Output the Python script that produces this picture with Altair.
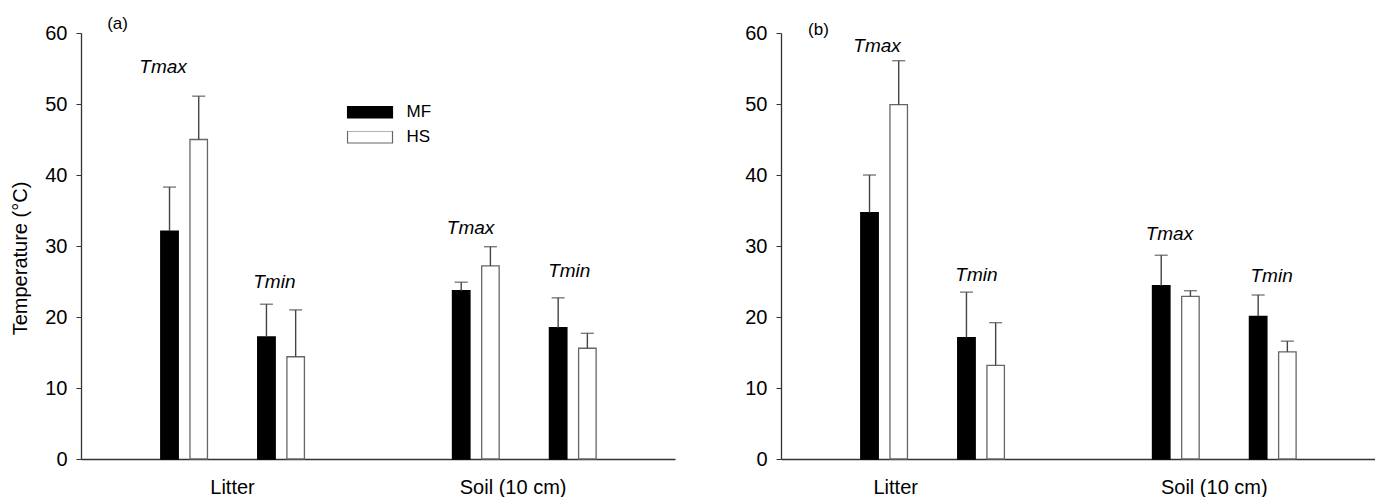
import altair as alt
import pandas as pd

# Categories
GROUPS = ["Litter", "Soil (10 cm)"]
STATS = ["Tmax", "Tmin"]
SERIES = ["MF", "HS"]
Y_TICKS = [0, 10, 20, 30, 40, 50, 60]

# Mean temperatures (°C), order: Litter-Tmax, Litter-Tmin, Soil-Tmax, Soil-Tmin
A_MF = [32.1, 17.2, 23.7, 18.5]
A_HS = [45.0, 14.4, 27.2, 15.6]
A_MF_SD = [6.2, 4.6, 1.2, 4.2]
A_HS_SD = [6.1, 6.6, 2.7, 2.1]

B_MF = [34.7, 17.1, 24.4, 20.1]
B_HS = [49.9, 13.2, 22.9, 15.1]
B_MF_SD = [5.3, 6.4, 4.3, 3.0]
B_HS_SD = [6.2, 6.0, 0.8, 1.5]

# Layout of the x axis (axis units)
X_DOMAIN = [0, 20]
GROUP_BASE = [2.86, 12.85]
STAT_SHIFT = [0.0, 3.32]
SERIES_SHIFT = [0.0, 1.0]

# Annotation anchors (x in axis units, y in °C)
A_NOTE_X = [2.64, 6.45, 13.17, 16.55]
A_NOTE_Y = [55.2, 24.9, 32.5, 26.5]
B_NOTE_X = [3.12, 6.52, 13.13, 16.63]
B_NOTE_Y = [58.2, 25.9, 31.7, 25.8]
A_CAT_X = [5.0, 14.61]
B_CAT_X = [3.74, 14.65]
A_TAG = (1.08, 61.3)
B_TAG = (1.11, 60.4)

FONT = "Liberation Sans"
W, H = 594, 426


def bar_table(mf, hs, mf_sd, hs_sd):
    rows = []
    means = {"MF": mf, "HS": hs}
    sds = {"MF": mf_sd, "HS": hs_sd}
    for gi, g in enumerate(GROUPS):
        for si, s in enumerate(STATS):
            for ki, k in enumerate(SERIES):
                i = gi * 2 + si
                m = means[k][i]
                rows.append({
                    "group": g, "stat": s, "series": k,
                    "pos": GROUP_BASE[gi] + STAT_SHIFT[si] + SERIES_SHIFT[ki],
                    "mean": m, "upper": m + sds[k][i],
                })
    return pd.DataFrame(rows)


def note_table(xs, ys):
    labels = [s for _g in GROUPS for s in STATS]
    return pd.DataFrame({"x": xs, "y": ys, "label": labels})


def panel(tag, tag_xy, mf, hs, mf_sd, hs_sd, note_x, note_y, cat_x, first):
    df = bar_table(mf, hs, mf_sd, hs_sd)
    xscale = alt.Scale(domain=X_DOMAIN, nice=False, zero=False)
    yscale = alt.Scale(domain=[0, 60], nice=False)
    label_expr = f"datum.value < 10 ? '{GROUPS[0]}' : '{GROUPS[1]}'"

    x_axis = alt.Axis(values=cat_x, labelExpr=label_expr, ticks=False, tickSize=0,
                      grid=False, labelFontSize=20, labelPadding=18, labelFlush=False,
                      domainColor="#333333", domainWidth=1.3, title=None)
    y_axis = alt.Axis(values=Y_TICKS, grid=False,
                      title="Temperature (°C)" if first else "",
                      titleFontSize=20, titleFontWeight="normal", titleX=-51, titleY=225,
                      tickSize=5, labelPadding=9, labelFontSize=20,
                      domainColor="#333333", tickColor="#333333", domainWidth=1.3)
    if first:
        legend = alt.Legend(orient="none", legendX=265.5, legendY=73, title=None,
                            symbolType="M-1,-0.2667H1V0.2667H-1Z", symbolSize=2025,
                            symbolStrokeWidth=1.2, labelFontSize=17, labelOffset=13,
                            clipHeight=12, rowPadding=8, labelFont=FONT,
                            labelColor="#000000", symbolOpacity=1)
    else:
        legend = None

    def xe(field):
        return alt.X(field, scale=xscale, axis=x_axis)

    def ye(field):
        return alt.Y(field, scale=yscale, axis=y_axis)

    bars = alt.Chart(df).mark_bar(size=17.5, strokeWidth=1.3, opacity=1).encode(
        x=xe("pos:Q"),
        y=ye("mean:Q"),
        fill=alt.Fill("series:N", scale=alt.Scale(domain=SERIES, range=["#000000", "#ffffff"]),
                      legend=legend),
        stroke=alt.Stroke("series:N", scale=alt.Scale(domain=SERIES, range=["#000000", "#666666"]),
                          legend=legend),
    )

    err = alt.Chart(df).mark_rule(color="#444444", strokeWidth=1.4).encode(
        x=xe("pos:Q"),
        y=ye("mean:Q"),
        y2="upper:Q",
    )
    caps = alt.Chart(df).mark_tick(orient="horizontal", size=13, thickness=1.4,
                                   color="#444444").encode(
        x=xe("pos:Q"),
        y=ye("upper:Q"),
    )

    notes = alt.Chart(note_table(note_x, note_y)).mark_text(
        font=FONT, fontSize=19, fontStyle="italic", color="#000000",
        align="center", baseline="middle").encode(
        x=xe("x:Q"),
        y=ye("y:Q"),
        text="label:N",
    )
    tag_df = pd.DataFrame({"x": [tag_xy[0]], "y": [tag_xy[1]], "t": [tag]})
    tag_mark = alt.Chart(tag_df).mark_text(
        font=FONT, fontSize=17, color="#000000", align="center", baseline="middle").encode(
        x=xe("x:Q"),
        y=ye("y:Q"),
        text="t:N",
    )
    return alt.layer(bars, err, caps, notes, tag_mark).properties(width=W, height=H)


left = panel("(a)", A_TAG, A_MF, A_HS, A_MF_SD, A_HS_SD, A_NOTE_X, A_NOTE_Y, A_CAT_X, True)
right = panel("(b)", B_TAG, B_MF, B_HS, B_MF_SD, B_HS_SD, B_NOTE_X, B_NOTE_Y, B_CAT_X, False)

chart = alt.hconcat(left, right, spacing=69).resolve_legend(
    fill="independent", stroke="independent"
).properties(
    padding={"left": 10, "top": 14, "right": 0, "bottom": 0},
    background="#ffffff",
).configure_view(stroke=None).configure_axis(
    labelFont=FONT, titleFont=FONT, labelColor="#000000", titleColor="#000000"
)

chart.save("out.html", embed_options={"renderer": "svg", "actions": False})
